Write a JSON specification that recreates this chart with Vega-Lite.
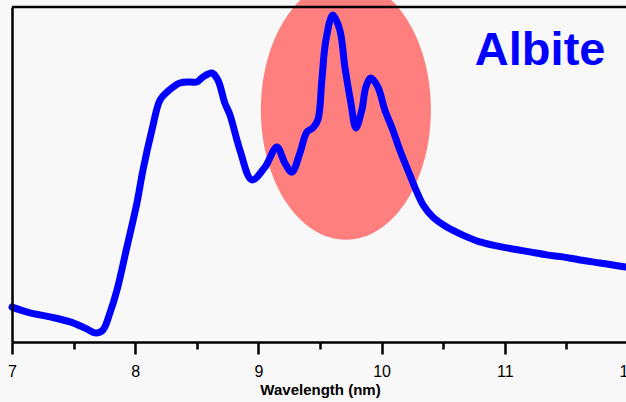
{
  "$schema": "https://vega.github.io/schema/vega-lite/v6.json",
  "width": 616,
  "height": 335,
  "autosize": {"type": "none"},
  "padding": {"left": 12, "top": 7, "right": 0, "bottom": 60},
  "background": "#f8f8f8",
  "config": {
    "view": {"stroke": null, "fill": "#f8f8f8"},
    "font": "Liberation Sans"
  },
  "datasets": {
    "curve": [
      {"x": 7.000, "y": 0.104}, {"x": 7.146, "y": 0.087}, {"x": 7.308, "y": 0.075},
      {"x": 7.471, "y": 0.060}, {"x": 7.592, "y": 0.042}, {"x": 7.682, "y": 0.027},
      {"x": 7.738, "y": 0.036}, {"x": 7.795, "y": 0.087}, {"x": 7.852, "y": 0.155},
      {"x": 7.933, "y": 0.284}, {"x": 8.014, "y": 0.415}, {"x": 8.063, "y": 0.513},
      {"x": 8.136, "y": 0.633}, {"x": 8.201, "y": 0.722}, {"x": 8.258, "y": 0.746},
      {"x": 8.363, "y": 0.773}, {"x": 8.444, "y": 0.776}, {"x": 8.501, "y": 0.776},
      {"x": 8.550, "y": 0.791}, {"x": 8.623, "y": 0.803}, {"x": 8.671, "y": 0.782},
      {"x": 8.728, "y": 0.713}, {"x": 8.769, "y": 0.678}, {"x": 8.850, "y": 0.573},
      {"x": 8.947, "y": 0.484}, {"x": 9.053, "y": 0.522}, {"x": 9.150, "y": 0.582},
      {"x": 9.215, "y": 0.534}, {"x": 9.272, "y": 0.507}, {"x": 9.337, "y": 0.564},
      {"x": 9.394, "y": 0.627}, {"x": 9.442, "y": 0.639}, {"x": 9.483, "y": 0.663},
      {"x": 9.515, "y": 0.782}, {"x": 9.548, "y": 0.901}, {"x": 9.604, "y": 0.976},
      {"x": 9.661, "y": 0.931}, {"x": 9.702, "y": 0.821}, {"x": 9.751, "y": 0.713},
      {"x": 9.791, "y": 0.639}, {"x": 9.840, "y": 0.693}, {"x": 9.872, "y": 0.761},
      {"x": 9.913, "y": 0.788}, {"x": 9.970, "y": 0.761}, {"x": 10.026, "y": 0.693},
      {"x": 10.091, "y": 0.633}, {"x": 10.148, "y": 0.573}, {"x": 10.229, "y": 0.499},
      {"x": 10.286, "y": 0.448}, {"x": 10.335, "y": 0.410}, {"x": 10.416, "y": 0.373},
      {"x": 10.529, "y": 0.343}, {"x": 10.659, "y": 0.319}, {"x": 10.797, "y": 0.299},
      {"x": 11.016, "y": 0.281}, {"x": 11.203, "y": 0.269}, {"x": 11.341, "y": 0.260},
      {"x": 11.471, "y": 0.254}, {"x": 11.609, "y": 0.245}, {"x": 11.771, "y": 0.236},
      {"x": 11.876, "y": 0.230}, {"x": 11.981, "y": 0.224}, {"x": 12.000, "y": 0.223}
    ],
    "highlight": [{"x": 9.71, "y": 0.693}],
    "label": [{"x": 10.757, "y": 0.827, "text": "Albite"}],
    "frame": [{"x": 7, "x2": 12, "y": 1}]
  },
  "layer": [
    {
      "data": {"name": "highlight"},
      "mark": {
        "type": "point",
        "shape": "M -0.654 0 A 0.654 1 0 1 0 0.654 0 A 0.654 1 0 1 0 -0.654 0 Z",
        "size": 67600,
        "filled": true,
        "fill": "#ff7f7f",
        "opacity": 1,
        "strokeWidth": 0
      },
      "encoding": {
        "x": {"field": "x", "type": "quantitative", "scale": {"domain": [7, 12], "nice": false, "zero": false}, "axis": null},
        "y": {"field": "y", "type": "quantitative", "scale": {"domain": [0, 1], "nice": false, "zero": false}, "axis": null}
      }
    },
    {
      "data": {"name": "curve"},
      "mark": {"type": "line", "color": "#0000ff", "strokeWidth": 7, "interpolate": "catmull-rom", "strokeCap": "round", "strokeJoin": "round"},
      "encoding": {
        "x": {
          "field": "x", "type": "quantitative",
          "axis": {
            "orient": "bottom",
            "values": [7, 8, 9, 10, 11, 12],
            "format": "d",
            "grid": false,
            "domainColor": "#000000", "domainWidth": 2.5,
            "tickColor": "#000000", "tickWidth": 2.5, "tickSize": 12,
            "labelFontSize": 16, "labelColor": "#000000", "labelFont": "Liberation Sans",
            "labelPadding": 9, "labelFlush": false, "labelOverlap": false,
            "title": "Wavelength (nm)", "titleFontSize": 15, "titleFontWeight": "bold",
            "titleColor": "#000000", "titleFont": "Liberation Sans", "titlePadding": 3
          }
        },
        "y": {
          "field": "y", "type": "quantitative",
          "axis": {
            "orient": "left", "grid": false, "ticks": false, "labels": false, "title": null,
            "domainColor": "#000000", "domainWidth": 2.5, "zindex": 1
          }
        }
      }
    },
    {
      "data": {"name": "label"},
      "mark": {"type": "text", "align": "left", "baseline": "alphabetic", "fontSize": 47, "fontWeight": "bold", "font": "Liberation Sans", "color": "#0000ff"},
      "encoding": {
        "x": {"field": "x", "type": "quantitative", "axis": null},
        "y": {"field": "y", "type": "quantitative", "axis": null},
        "text": {"field": "text"}
      }
    },
    {
      "data": {"name": "frame"},
      "mark": {"type": "rule", "color": "#000000", "strokeWidth": 2.5},
      "encoding": {
        "y": {"field": "y", "type": "quantitative", "axis": null},
        "x": {
          "field": "x", "type": "quantitative",
          "axis": {
            "orient": "bottom",
            "values": [7.5, 8.5, 9.5, 10.5, 11.5],
            "grid": false, "domain": false, "labels": false, "title": null,
            "tickColor": "#000000", "tickWidth": 2.5, "tickSize": 7
          }
        },
        "x2": {"field": "x2"}
      }
    }
  ],
  "resolve": {"axis": {"x": "independent", "y": "independent"}}
}
